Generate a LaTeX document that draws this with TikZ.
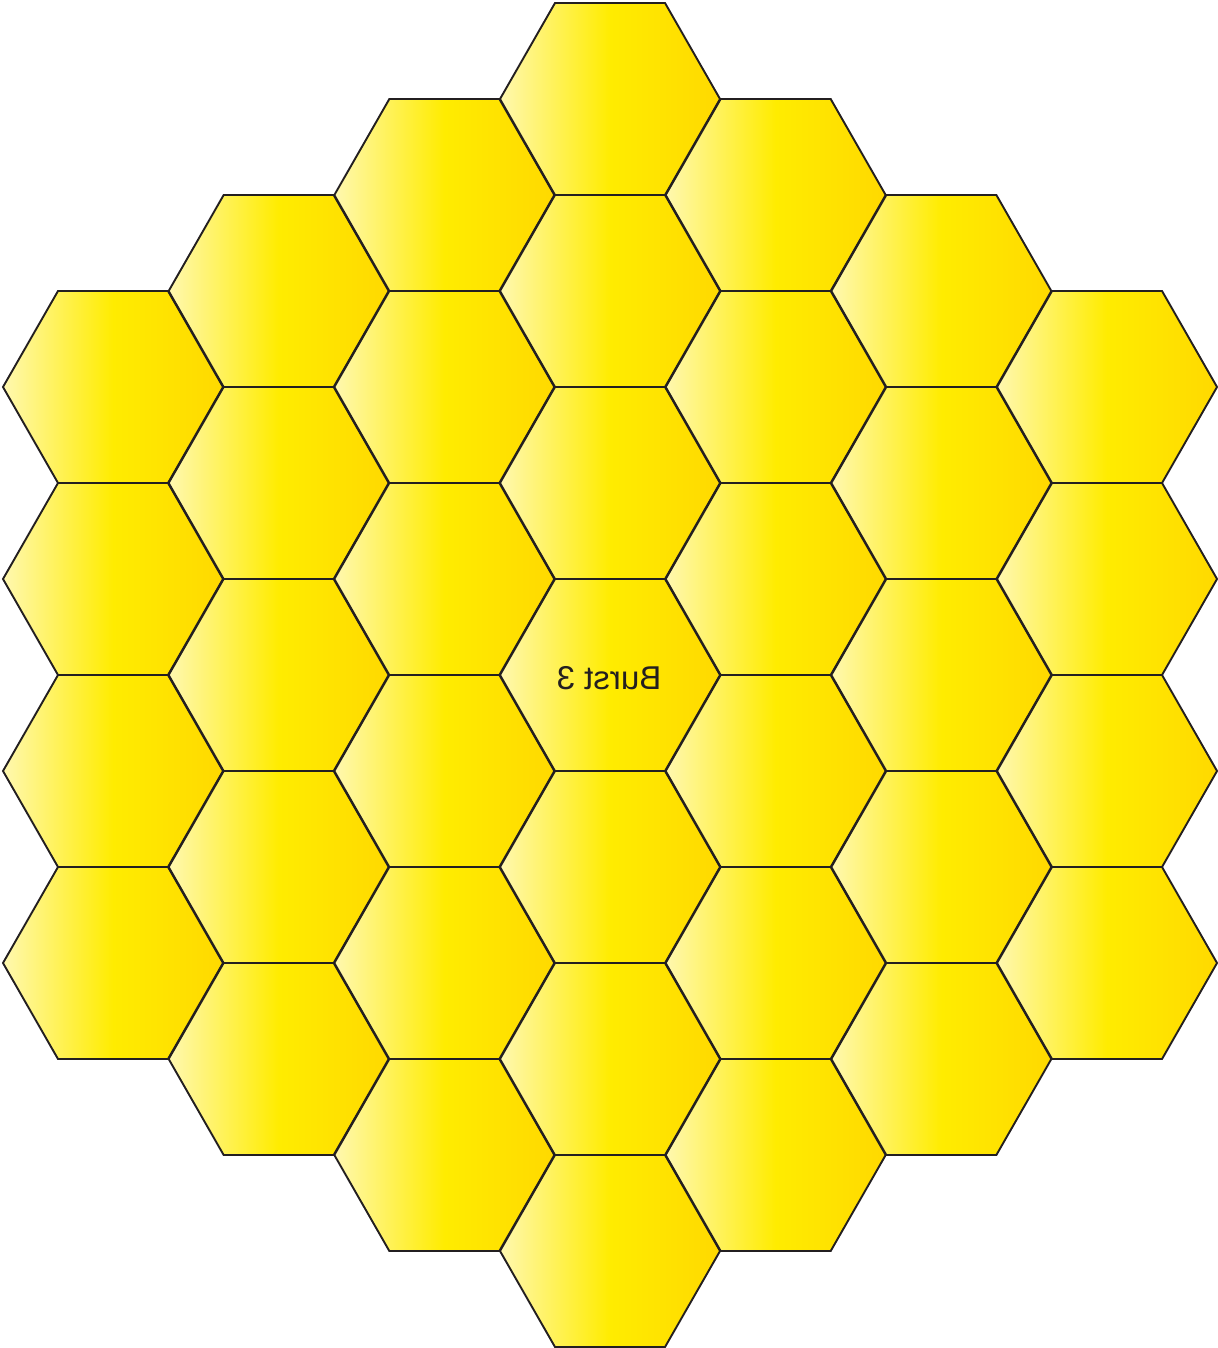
\documentclass[tikz,border=0pt]{standalone}
\usepackage{fontspec}
\setmainfont{Liberation Sans}
\definecolor{hexL}{HTML}{FFF8B0}
\definecolor{hexM}{HTML}{FFEC00}
\definecolor{hexR}{HTML}{FFD900}
\definecolor{txt}{HTML}{231F20}
\tikzset{
  hexcell/.style={draw=txt, line width=1.9pt, line join=miter, left color=hexL, right color=hexR, middle color=hexM},
  burstlabel/.style={text=txt, font=\fontsize{33}{36}\selectfont, inner sep=0pt}
}
\begin{document}
\begin{tikzpicture}[x=1pt,y=-1pt]
\useasboundingbox (0,0) rectangle (1217,1348);
\foreach \c in {0,...,6}{
  \pgfmathtruncatemacro{\d}{abs(\c-3)}
  \pgfmathtruncatemacro{\n}{6-\d}
  \foreach \k in {0,...,\n}{
    \pgfmathsetmacro{\cx}{113+165.67*\c}
    \pgfmathsetmacro{\cy}{99+96*\d+192*\k}
    \path[hexcell] (\cx-110,\cy) -- (\cx-55,\cy-96) -- (\cx+55,\cy-96) -- (\cx+110,\cy) -- (\cx+55,\cy+96) -- (\cx-55,\cy+96) -- cycle;
  }
}
\node[burstlabel, xscale=-1] (burst) at (609,678) {Burst 3};
\end{tikzpicture}
\end{document}
